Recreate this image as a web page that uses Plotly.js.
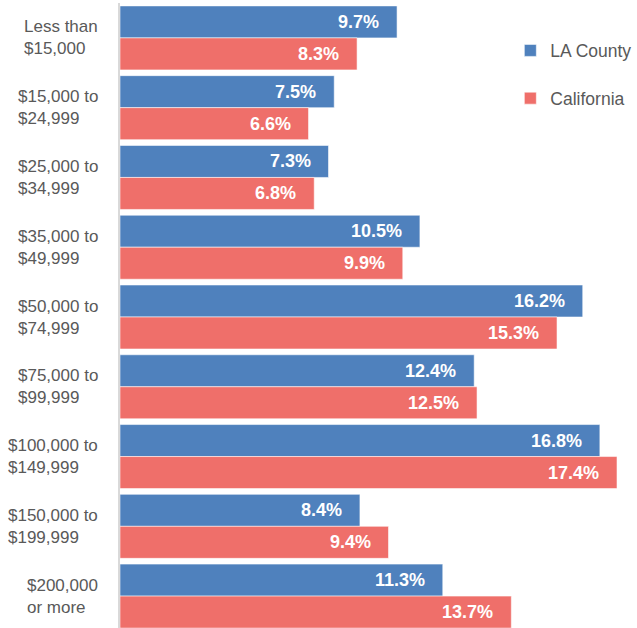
<!DOCTYPE html>
<html>
<head>
<meta charset="utf-8">
<script src="https://cdn.plot.ly/plotly-3.0.1.min.js"></script>
<style>html,body{margin:0;padding:0;overflow:hidden;background:#fff;}</style>
</head>
<body>
<div id="chart" style="width:637px;height:631px;"></div>
<script>
// Categories (top to bottom)
const categories = ["Less than $15,000", "$15,000 to $24,999", "$25,000 to $34,999", "$35,000 to $49,999",
  "$50,000 to $74,999", "$75,000 to $99,999", "$100,000 to $149,999", "$150,000 to $199,999", "$200,000 or more"];
// Two-line tick labels
const tickLine1 = ["Less than", "$15,000 to", "$25,000 to", "$35,000 to", "$50,000 to", "$75,000 to", "$100,000 to", "$150,000 to", "$200,000"];
const tickLine2 = ["$15,000", "$24,999", "$34,999", "$49,999", "$74,999", "$99,999", "$149,999", "$199,999", "or more"];
// Series values (percent)
const laCounty = [9.7, 7.5, 7.3, 10.5, 16.2, 12.4, 16.8, 8.4, 11.3];
const california = [8.3, 6.6, 6.8, 9.9, 15.3, 12.5, 17.4, 9.4, 13.7];
const seriesNames = ["LA County", "California"];

const BLUE = "#4F81BD", RED = "#EF6F6A", GRAY = "#595959";
const FONT = "'Liberation Sans', Arial, sans-serif";

const traces = [
  {type: "bar", orientation: "h", name: seriesNames[0], legendgroup: "a", x: laCounty, y: categories,
   marker: {color: BLUE, line: {color: "rgba(255,255,255,0.55)", width: 1}}},
  {type: "bar", orientation: "h", name: seriesNames[1], legendgroup: "b", x: california, y: categories,
   marker: {color: RED, line: {color: "rgba(255,255,255,0.55)", width: 1}}}
];

const annotations = [];
categories.forEach((c, i) => {
  annotations.push({x: laCounty[i], y: c, xref: "x", yref: "y", text: laCounty[i].toFixed(1) + "%",
    showarrow: false, xanchor: "right", yanchor: "middle", xshift: -16, yshift: 16,
    font: {family: FONT, size: 18, color: "#fff", weight: "bold"}});
  annotations.push({x: california[i], y: c, xref: "x", yref: "y", text: california[i].toFixed(1) + "%",
    showarrow: false, xanchor: "right", yanchor: "middle", xshift: -16, yshift: -16,
    font: {family: FONT, size: 18, color: "#fff", weight: "bold"}});
  // two-line category label
  annotations.push({x: 0, y: c, xref: "paper", yref: "y", text: tickLine1[i] + "<br>" + tickLine2[i],
    showarrow: false, xanchor: "right", yanchor: "middle", align: "left", xshift: -20,
    font: {family: FONT, size: 17, color: GRAY}});
});

const layout = {
  width: 637, height: 631,
  margin: {l: 120, r: 0, t: 3, b: 0, pad: 0, autoexpand: false},
  paper_bgcolor: "#fff", plot_bgcolor: "#fff",
  barmode: "group", bargap: 0.083, bargroupgap: 0,
  xaxis: {range: [0, 18.1], showgrid: false, zeroline: false, showticklabels: false, showline: false, fixedrange: true},
  yaxis: {type: "category", autorange: "reversed", showticklabels: false, showgrid: false, zeroline: false,
          showline: true, linecolor: "#D9D9D9", linewidth: 2, ticks: "", fixedrange: true},
  showlegend: true,
  legend: {x: 0.755, y: 0.953, xanchor: "left", yanchor: "top", bgcolor: "rgba(0,0,0,0)",
           font: {family: FONT, size: 17.5, color: GRAY}, traceorder: "grouped", tracegroupgap: 22},
  annotations: annotations
};

Plotly.newPlot("chart", traces, layout, {displayModeBar: false, staticPlot: true});
</script>
</body>
</html>
